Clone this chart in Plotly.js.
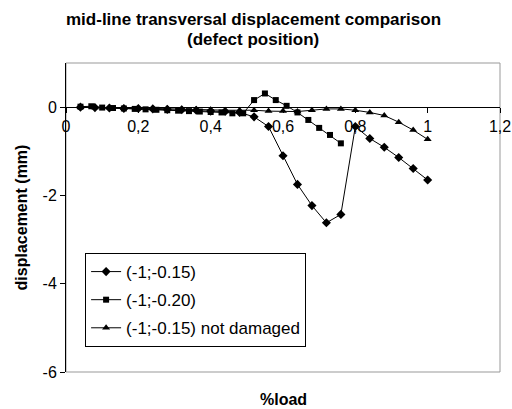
<!DOCTYPE html>
<html>
<head>
<meta charset="utf-8">
<script src="https://cdn.plot.ly/plotly-3.0.1.min.js"></script>
<style>
  html, body { margin: 0; padding: 0; background: #fff; }
  #chart { width: 512px; height: 409px; }
</style>
</head>
<body>
<div id="chart"></div>
<script>
// Mid-line transversal displacement (mm) against fraction of load

// (-1;-0.15): sampled every 0.04 of the load
const loadA = [0.04, 0.08, 0.12, 0.16, 0.20, 0.24, 0.28, 0.32, 0.36, 0.40, 0.44, 0.48,
               0.52, 0.56, 0.60, 0.64, 0.68, 0.72, 0.76, 0.80, 0.84, 0.88, 0.92, 0.96, 1.00];
const dispA = [0.00, -0.01, -0.02, -0.03, -0.03, -0.04, -0.05, -0.06, -0.07, -0.09, -0.10, -0.12,
               -0.22, -0.44, -1.10, -1.75, -2.23, -2.62, -2.43, -0.44, -0.71, -0.91, -1.14, -1.39, -1.65];

// (-1;-0.20): sampled every 0.03 of the load
const loadB = [0.04, 0.07, 0.10, 0.13, 0.16, 0.19, 0.22, 0.25, 0.28, 0.31, 0.34, 0.37,
               0.40, 0.43, 0.46, 0.49, 0.52, 0.55, 0.58, 0.61, 0.64, 0.67, 0.70, 0.73, 0.76];
const dispB = [0.01, 0.02, -0.01, -0.02, -0.03, -0.04, -0.05, -0.06, -0.07, -0.08, -0.09, -0.10,
               -0.11, -0.12, -0.14, -0.14, 0.16, 0.31, 0.16, 0.03, -0.12, -0.29, -0.47, -0.63, -0.82];

// (-1;-0.15) not damaged: sampled every 0.04 of the load
const loadC = [0.04, 0.08, 0.12, 0.16, 0.20, 0.24, 0.28, 0.32, 0.36, 0.40, 0.44, 0.48,
               0.52, 0.56, 0.60, 0.64, 0.68, 0.72, 0.76, 0.80, 0.84, 0.88, 0.92, 0.96, 1.00];
const dispC = [0.00, -0.01, -0.01, -0.02, -0.02, -0.03, -0.03, -0.04, -0.05, -0.06, -0.07, -0.07,
               -0.07, -0.09, -0.09, -0.10, -0.07, -0.04, -0.04, -0.07, -0.12, -0.19, -0.34, -0.52, -0.73];

const seriesNames = ['(-1;-0.15)', '(-1;-0.20)', '(-1;-0.15) not damaged'];

const titleLines = ['mid-line transversal displacement comparison', '(defect position)'];
const xTitle = '%load';
const yTitle = 'displacement (mm)';

const xTicks = [0, 0.2, 0.4, 0.6, 0.8, 1, 1.2];
const xTickText = ['0', '0,2', '0,4', '0,6', '0,8', '1', '1,2'];
const yTicks = [-6, -4, -2, 0];
const yTickText = ['-6', '-4', '-2', '0'];

const font = 'Arial, "Liberation Sans", sans-serif';

function series(x, y, name, symbol, size, group) {
  return {
    x: x, y: y, name: name, type: 'scatter', mode: 'lines+markers',
    legendgroup: group,
    line: { color: '#000', width: 1 },
    marker: { symbol: symbol, size: size, color: '#000' }
  };
}

const data = [
  series(loadA, dispA, seriesNames[0], 'diamond', 7, 'a'),
  series(loadB, dispB, seriesNames[1], 'square', 6, 'b'),
  series(loadC, dispC, seriesNames[2], 'triangle-up', 7, 'c')
];

// Title lines and the x-axis caption are placed as annotations so that the
// x axis itself can sit on the y = 0 line.
const headAnnotations = titleLines.map((t, i) => ({
  text: '<b>' + t + '</b>', xref: 'paper', yref: 'paper',
  x: (253 - 66) / 434, y: 1 + (43 - 20 * i) / 309,
  xanchor: 'center', yanchor: 'middle', showarrow: false,
  font: { family: font, size: 17, color: '#000' }
}));

const layout = {
  width: 512, height: 409,
  margin: { l: 66, r: 12, t: 63, b: 37 },
  paper_bgcolor: '#fff', plot_bgcolor: '#fff',
  font: { family: font, size: 16, color: '#000' },
  xaxis: {
    range: [0, 1.2], tickvals: xTicks, ticktext: xTickText,
    anchor: 'free', position: 6 / 7,
    showgrid: false, zeroline: false,
    showline: true, linecolor: '#000', linewidth: 1,
    ticks: 'outside', ticklen: 5, tickcolor: '#000',
    tickfont: { family: font, size: 16, color: '#000' }
  },
  yaxis: {
    range: [-6, 1], tickvals: yTicks, ticktext: yTickText,
    showgrid: false, zeroline: false,
    showline: true, linecolor: '#000', linewidth: 1,
    ticks: 'outside', ticklen: 5, tickcolor: '#000',
    tickfont: { family: font, size: 16, color: '#000' },
    title: { text: '<b>' + yTitle + '</b>', font: { family: font, size: 16, color: '#000' }, standoff: 10 }
  },
  annotations: headAnnotations.concat([{
    text: '<b>' + xTitle + '</b>', xref: 'paper', yref: 'paper',
    x: 0.5, y: -27 / 309, xanchor: 'center', yanchor: 'middle',
    showarrow: false, font: { family: font, size: 16, color: '#000' }
  }]),
  shapes: [{
    type: 'rect', xref: 'paper', yref: 'paper', x0: 0, x1: 1, y0: 0, y1: 1,
    line: { color: '#999', width: 1 }, layer: 'below'
  }],
  showlegend: true,
  legend: {
    x: 0.044, y: 0.385, xanchor: 'left', yanchor: 'top',
    bgcolor: '#fff', bordercolor: '#000', borderwidth: 1,
    font: { family: font, size: 17, color: '#000' },
    traceorder: 'grouped', tracegroupgap: 3
  }
};

Plotly.newPlot('chart', data, layout, { displayModeBar: false, staticPlot: true });
</script>
</body>
</html>
